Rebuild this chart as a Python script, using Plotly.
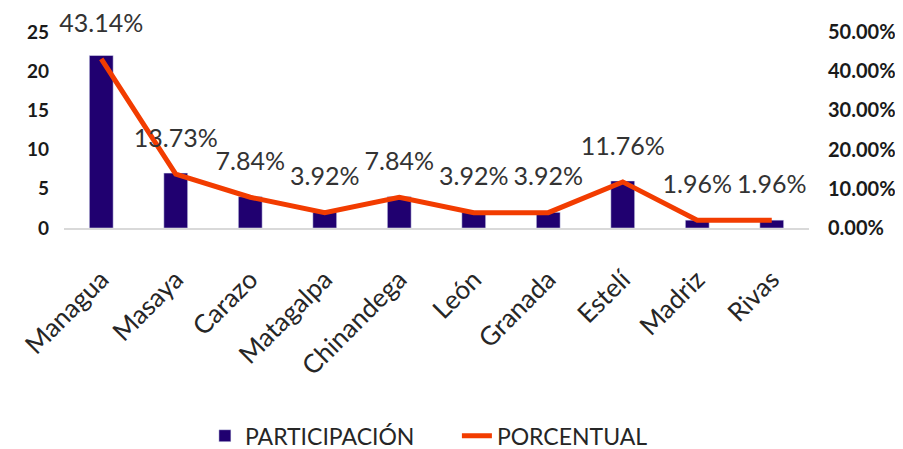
import plotly.graph_objects as go

departamentos = ["Managua", "Masaya", "Carazo", "Matagalpa", "Chinandega",
                 "León", "Granada", "Estelí", "Madriz", "Rivas"]
participacion = [22, 7, 4, 2, 4, 2, 2, 6, 1, 1]
total = sum(participacion)
porcentual = [v / total for v in participacion]
etiquetas = [f"{p * 100:.2f}%" for p in porcentual]

fuente = "Lato, 'Noto Sans', sans-serif"

fig = go.Figure()
fig.add_trace(go.Bar(
    x=departamentos,
    y=participacion,
    name="PARTICIPACIÓN",
    marker_color="#200070",
    width=0.32,
))
fig.add_trace(go.Scatter(
    x=departamentos,
    y=porcentual,
    name="PORCENTUAL",
    yaxis="y2",
    mode="lines+markers+text",
    line=dict(color="#f23c00", width=5),
    marker=dict(size=32, color="rgba(0,0,0,0)"),
    text=etiquetas,
    textposition="top center",
    textfont=dict(family=fuente, size=25, color="#333333"),
    cliponaxis=False,
))

# la página tiene 8 px de margen en body: el lienzo se reduce en 8 px
fig.update_layout(
    width=895,
    height=441,
    paper_bgcolor="white",
    plot_bgcolor="white",
    font=dict(family=fuente, color="#262626"),
    margin=dict(t=24, b=221, l=56, r=94, autoexpand=False),
    bargap=0.68,
    xaxis=dict(
        range=[-0.5, len(departamentos) - 0.5],
        tickangle=-45,
        tickfont=dict(size=26, color="#262626"),
        showline=True, linecolor="#d9d9d9", linewidth=2,
        ticks="", automargin=False, ticklabelstandoff=24,
    ),
    yaxis=dict(
        range=[0, 25], dtick=5, showgrid=False, zeroline=False,
        tickfont=dict(size=19, weight="bold", color="#1a1a1a"),
        ticklabelstandoff=14, automargin=False,
    ),
    yaxis2=dict(
        range=[0, 0.5], dtick=0.1, tickformat=".2%", overlaying="y", side="right",
        showgrid=False, zeroline=False,
        tickfont=dict(size=20, weight="bold", color="#1a1a1a"),
        ticklabelstandoff=18, automargin=False,
    ),
    legend=dict(
        orientation="h", xref="container", x=0.22, xanchor="left",
        yref="container", y=0.03, yanchor="middle",
        font=dict(size=23, color="#262626"),
        entrywidth=207,
    ),
)

fig.write_html("out.html")
